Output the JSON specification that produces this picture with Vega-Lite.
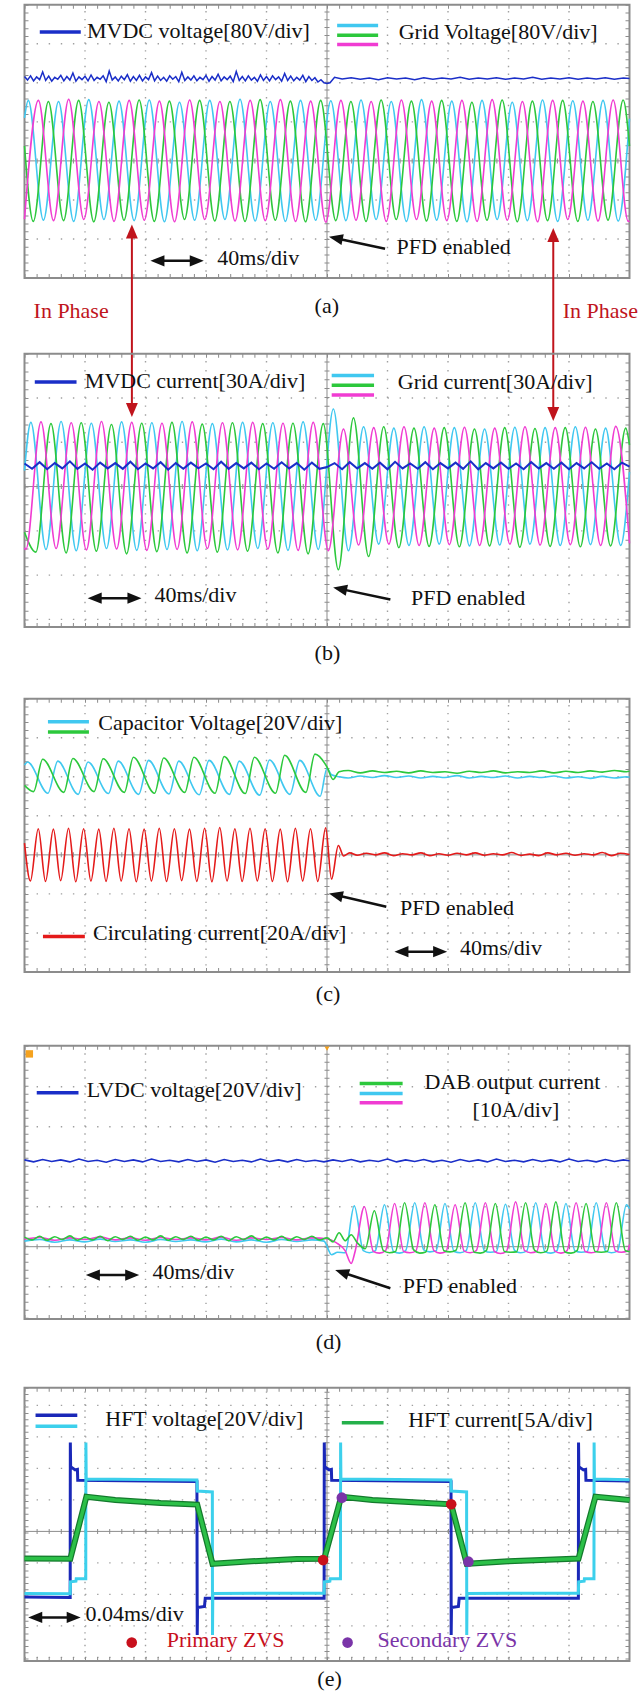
{
"$schema": "https://vega.github.io/schema/vega-lite/v6.json",
"autosize": {"type": "pad"},
"padding": {"left": 12.5, "top": 1.7, "right": 0, "bottom": 0},
"background": "white",
"spacing": 0,
"bounds": "flush",
"config": {"view": {"stroke": null}, "axis": {"disable": true}, "legend": {"disable": true}},
"datasets": {
"hgridA": [{"v":1},{"v":2},{"v":3},{"v":-1},{"v":-2}],
"hgridB": [{"v":1},{"v":2},{"v":-1},{"v":-2},{"v":-3}],
"hgridD": [{"v":1},{"v":2},{"v":3},{"v":4},{"v":-1}],
"hgridE": [{"v":1},{"v":2},{"v":3},{"v":4},{"v":-1},{"v":-2},{"v":-3},{"v":-4}],
"vgrid": [{"t":40},{"t":80},{"t":120},{"t":160},{"t":240},{"t":280},{"t":320},{"t":360}],
"vgridE": [{"t":0.04},{"t":0.08},{"t":0.12},{"t":0.16},{"t":0.24},{"t":0.28},{"t":0.32},{"t":0.36}],
"aV": [
{"s":"A","t":0,"v":1.1},{"s":"A","t":2.5,"v":1.55},{"s":"A","t":12.5,"v":-1.52},{"s":"A","t":22.5,"v":1.52},{"s":"A","t":32.5,"v":-1.55},{"s":"A","t":42.5,"v":1.57},{"s":"A","t":52.5,"v":-1.5},{"s":"A","t":62.5,"v":1.53},{"s":"A","t":72.5,"v":-1.53},{"s":"A","t":82.5,"v":1.56},{"s":"A","t":92.5,"v":-1.56},{"s":"A","t":102.5,"v":1.5},{"s":"A","t":112.5,"v":-1.52},{"s":"A","t":122.5,"v":1.55},{"s":"A","t":132.5,"v":-1.5},{"s":"A","t":142.5,"v":1.58},{"s":"A","t":152.5,"v":-1.54},{"s":"A","t":162.5,"v":1.52},{"s":"A","t":172.5,"v":-1.55},{"s":"A","t":182.5,"v":1.55},{"s":"A","t":192.5,"v":-1.52},{"s":"A","t":202.5,"v":1.54},{"s":"A","t":212.5,"v":-1.53},{"s":"A","t":222.5,"v":1.56},{"s":"A","t":232.5,"v":-1.5},{"s":"A","t":242.5,"v":1.52},{"s":"A","t":252.5,"v":-1.55},{"s":"A","t":262.5,"v":1.57},{"s":"A","t":272.5,"v":-1.52},{"s":"A","t":282.5,"v":1.53},{"s":"A","t":292.5,"v":-1.56},{"s":"A","t":302.5,"v":1.55},{"s":"A","t":312.5,"v":-1.5},{"s":"A","t":322.5,"v":1.5},{"s":"A","t":332.5,"v":-1.53},{"s":"A","t":342.5,"v":1.56},{"s":"A","t":352.5,"v":-1.55},{"s":"A","t":362.5,"v":1.54},{"s":"A","t":372.5,"v":-1.52},{"s":"A","t":382.5,"v":1.55},{"s":"A","t":392.5,"v":-1.54},{"s":"A","t":400,"v":1.08},
{"s":"B","t":0,"v":0.38},{"s":"B","t":5.8,"v":-1.55},{"s":"B","t":15.8,"v":1.52},{"s":"B","t":25.8,"v":-1.53},{"s":"B","t":35.8,"v":1.55},{"s":"B","t":45.8,"v":-1.56},{"s":"B","t":55.8,"v":1.5},{"s":"B","t":65.8,"v":-1.52},{"s":"B","t":75.8,"v":1.56},{"s":"B","t":85.8,"v":-1.55},{"s":"B","t":95.8,"v":1.53},{"s":"B","t":105.8,"v":-1.5},{"s":"B","t":115.8,"v":1.55},{"s":"B","t":125.8,"v":-1.54},{"s":"B","t":135.8,"v":1.52},{"s":"B","t":145.8,"v":-1.55},{"s":"B","t":155.8,"v":1.57},{"s":"B","t":165.8,"v":-1.52},{"s":"B","t":175.8,"v":1.53},{"s":"B","t":185.8,"v":-1.56},{"s":"B","t":195.8,"v":1.55},{"s":"B","t":205.8,"v":-1.53},{"s":"B","t":215.8,"v":1.52},{"s":"B","t":225.8,"v":-1.55},{"s":"B","t":235.8,"v":1.56},{"s":"B","t":245.8,"v":-1.5},{"s":"B","t":255.8,"v":1.53},{"s":"B","t":265.8,"v":-1.54},{"s":"B","t":275.8,"v":1.55},{"s":"B","t":285.8,"v":-1.55},{"s":"B","t":295.8,"v":1.5},{"s":"B","t":305.8,"v":-1.52},{"s":"B","t":315.8,"v":1.56},{"s":"B","t":325.8,"v":-1.56},{"s":"B","t":335.8,"v":1.53},{"s":"B","t":345.8,"v":-1.53},{"s":"B","t":355.8,"v":1.55},{"s":"B","t":365.8,"v":-1.55},{"s":"B","t":375.8,"v":1.52},{"s":"B","t":385.8,"v":-1.52},{"s":"B","t":395.8,"v":1.56},{"s":"B","t":400,"v":0.38},
{"s":"C","t":0,"v":-1.49},{"s":"C","t":9.2,"v":1.55},{"s":"C","t":19.2,"v":-1.53},{"s":"C","t":29.2,"v":1.58},{"s":"C","t":39.2,"v":-1.5},{"s":"C","t":49.2,"v":1.52},{"s":"C","t":59.2,"v":-1.55},{"s":"C","t":69.2,"v":1.55},{"s":"C","t":79.2,"v":-1.52},{"s":"C","t":89.2,"v":1.53},{"s":"C","t":99.2,"v":-1.56},{"s":"C","t":109.2,"v":1.56},{"s":"C","t":119.2,"v":-1.5},{"s":"C","t":129.2,"v":1.52},{"s":"C","t":139.2,"v":-1.54},{"s":"C","t":149.2,"v":1.55},{"s":"C","t":159.2,"v":-1.53},{"s":"C","t":169.2,"v":1.57},{"s":"C","t":179.2,"v":-1.55},{"s":"C","t":189.2,"v":1.53},{"s":"C","t":199.2,"v":-1.57},{"s":"C","t":209.2,"v":1.55},{"s":"C","t":219.2,"v":-1.52},{"s":"C","t":229.2,"v":1.52},{"s":"C","t":239.2,"v":-1.55},{"s":"C","t":249.2,"v":1.56},{"s":"C","t":259.2,"v":-1.5},{"s":"C","t":269.2,"v":1.53},{"s":"C","t":279.2,"v":-1.53},{"s":"C","t":289.2,"v":1.55},{"s":"C","t":299.2,"v":-1.55},{"s":"C","t":309.2,"v":1.57},{"s":"C","t":319.2,"v":-1.52},{"s":"C","t":329.2,"v":1.52},{"s":"C","t":339.2,"v":-1.56},{"s":"C","t":349.2,"v":1.55},{"s":"C","t":359.2,"v":-1.5},{"s":"C","t":369.2,"v":1.53},{"s":"C","t":379.2,"v":-1.54},{"s":"C","t":389.2,"v":1.56},{"s":"C","t":399.2,"v":-1.55},{"s":"C","t":400,"v":-1.53}
],
"aDC": [
{"t":0,"v":2.16},{"t":2,"v":2.07},{"t":4,"v":2.18},{"t":6,"v":2.05},{"t":8,"v":2.15},{"t":10,"v":2.08},{"t":12,"v":2.28},{"t":14,"v":2.06},{"t":16,"v":2.17},{"t":18,"v":2.04},{"t":20,"v":2.14},{"t":22,"v":2.09},{"t":24,"v":2.19},{"t":26,"v":2.05},{"t":28,"v":2.16},{"t":30,"v":2.07},{"t":32,"v":2.25},{"t":34,"v":2.04},{"t":36,"v":2.15},{"t":38,"v":2.08},
{"t":40,"v":2.17},{"t":42,"v":2.05},{"t":44,"v":2.2},{"t":46,"v":2.06},{"t":48,"v":2.14},{"t":50,"v":2.09},{"t":52,"v":2.18},{"t":54,"v":2.03},{"t":56,"v":2.3},{"t":58,"v":2.07},{"t":60,"v":2.15},{"t":62,"v":2.05},{"t":64,"v":2.17},{"t":66,"v":2.08},{"t":68,"v":2.21},{"t":70,"v":2.04},{"t":72,"v":2.16},{"t":74,"v":2.06},{"t":76,"v":2.19},{"t":78,"v":2.05},
{"t":80,"v":2.15},{"t":82,"v":2.08},{"t":84,"v":2.26},{"t":86,"v":2.05},{"t":88,"v":2.17},{"t":90,"v":2.06},{"t":92,"v":2.14},{"t":94,"v":2.04},{"t":96,"v":2.18},{"t":98,"v":2.09},{"t":100,"v":2.16},{"t":102,"v":2.03},{"t":104,"v":2.27},{"t":106,"v":2.06},{"t":108,"v":2.15},{"t":110,"v":2.07},{"t":112,"v":2.18},{"t":114,"v":2.05},{"t":116,"v":2.14},{"t":118,"v":2.08},
{"t":120,"v":2.19},{"t":122,"v":2.04},{"t":124,"v":2.16},{"t":126,"v":2.07},{"t":128,"v":2.22},{"t":130,"v":2.05},{"t":132,"v":2.15},{"t":134,"v":2.08},{"t":136,"v":2.17},{"t":138,"v":2.03},{"t":140,"v":2.29},{"t":142,"v":2.06},{"t":144,"v":2.16},{"t":146,"v":2.05},{"t":148,"v":2.18},{"t":150,"v":2.07},{"t":152,"v":2.14},{"t":154,"v":2.04},{"t":156,"v":2.2},{"t":158,"v":2.06},
{"t":160,"v":2.16},{"t":162,"v":2.05},{"t":164,"v":2.18},{"t":166,"v":2.08},{"t":168,"v":2.15},{"t":170,"v":2.04},{"t":172,"v":2.24},{"t":174,"v":2.06},{"t":176,"v":2.17},{"t":178,"v":2.05},{"t":180,"v":2.14},{"t":182,"v":2.07},{"t":184,"v":2.19},{"t":186,"v":2.03},{"t":188,"v":2.16},{"t":190,"v":2.06},{"t":192,"v":2.13},{"t":194,"v":2.02},{"t":196,"v":2.08},{"t":198,"v":2.0},
{"t":200,"v":1.98},{"t":202,"v":2.0},{"t":205,"v":2.14},{"t":210,"v":2.1},{"t":216,"v":2.13},{"t":222,"v":2.09},{"t":228,"v":2.12},{"t":234,"v":2.08},{"t":240,"v":2.13},{"t":246,"v":2.1},{"t":252,"v":2.12},{"t":258,"v":2.08},{"t":264,"v":2.13},{"t":270,"v":2.09},{"t":276,"v":2.12},{"t":282,"v":2.1},{"t":288,"v":2.14},{"t":294,"v":2.09},{"t":300,"v":2.12},{"t":306,"v":2.1},{"t":312,"v":2.13},{"t":318,"v":2.09},{"t":324,"v":2.12},{"t":330,"v":2.1},{"t":336,"v":2.14},{"t":342,"v":2.09},{"t":348,"v":2.12},{"t":354,"v":2.1},{"t":360,"v":2.13},{"t":366,"v":2.09},{"t":372,"v":2.12},{"t":378,"v":2.1},{"t":384,"v":2.13},{"t":390,"v":2.09},{"t":396,"v":2.12},{"t":400,"v":2.11}
],
"bI": [
{"s":"A","t":0,"v":0.36},{"s":"A","t":4.2,"v":1.45},{"s":"A","t":14.2,"v":-1.42},{"s":"A","t":24.2,"v":1.47},{"s":"A","t":34.2,"v":-1.45},{"s":"A","t":44.2,"v":1.43},{"s":"A","t":54.2,"v":-1.4},{"s":"A","t":64.2,"v":1.46},{"s":"A","t":74.2,"v":-1.44},{"s":"A","t":84.2,"v":1.44},{"s":"A","t":94.2,"v":-1.42},{"s":"A","t":104.2,"v":1.47},{"s":"A","t":114.2,"v":-1.45},{"s":"A","t":124.2,"v":1.42},{"s":"A","t":134.2,"v":-1.43},{"s":"A","t":144.2,"v":1.45},{"s":"A","t":154.2,"v":-1.4},{"s":"A","t":164.2,"v":1.44},{"s":"A","t":174.2,"v":-1.44},{"s":"A","t":184.2,"v":1.46},{"s":"A","t":194.2,"v":-1.42},{"s":"A","t":204.2,"v":1.75},{"s":"A","t":214.2,"v":-1.45},{"s":"A","t":224.2,"v":1.35},{"s":"A","t":234.2,"v":-1.3},{"s":"A","t":244.2,"v":1.32},{"s":"A","t":254.2,"v":-1.33},{"s":"A","t":264.2,"v":1.35},{"s":"A","t":274.2,"v":-1.3},{"s":"A","t":284.2,"v":1.33},{"s":"A","t":294.2,"v":-1.34},{"s":"A","t":304.2,"v":1.3},{"s":"A","t":314.2,"v":-1.32},{"s":"A","t":324.2,"v":1.34},{"s":"A","t":334.2,"v":-1.3},{"s":"A","t":344.2,"v":1.33},{"s":"A","t":354.2,"v":-1.33},{"s":"A","t":364.2,"v":1.35},{"s":"A","t":374.2,"v":-1.31},{"s":"A","t":384.2,"v":1.32},{"s":"A","t":394.2,"v":-1.33},{"s":"A","t":400,"v":0.33},
{"s":"B","t":0,"v":-1.03},{"s":"B","t":7.5,"v":-1.48},{"s":"B","t":17.5,"v":1.42},{"s":"B","t":27.5,"v":-1.5},{"s":"B","t":37.5,"v":1.44},{"s":"B","t":47.5,"v":-1.46},{"s":"B","t":57.5,"v":1.4},{"s":"B","t":67.5,"v":-1.52},{"s":"B","t":77.5,"v":1.43},{"s":"B","t":87.5,"v":-1.47},{"s":"B","t":97.5,"v":1.45},{"s":"B","t":107.5,"v":-1.5},{"s":"B","t":117.5,"v":1.41},{"s":"B","t":127.5,"v":-1.48},{"s":"B","t":137.5,"v":1.44},{"s":"B","t":147.5,"v":-1.46},{"s":"B","t":157.5,"v":1.42},{"s":"B","t":167.5,"v":-1.5},{"s":"B","t":177.5,"v":1.43},{"s":"B","t":187.5,"v":-1.52},{"s":"B","t":197.5,"v":1.42},{"s":"B","t":207.5,"v":-1.88},{"s":"B","t":217.5,"v":1.55},{"s":"B","t":227.5,"v":-1.58},{"s":"B","t":237.5,"v":1.35},{"s":"B","t":247.5,"v":-1.38},{"s":"B","t":257.5,"v":1.32},{"s":"B","t":267.5,"v":-1.35},{"s":"B","t":277.5,"v":1.33},{"s":"B","t":287.5,"v":-1.36},{"s":"B","t":297.5,"v":1.3},{"s":"B","t":307.5,"v":-1.34},{"s":"B","t":317.5,"v":1.33},{"s":"B","t":327.5,"v":-1.37},{"s":"B","t":337.5,"v":1.31},{"s":"B","t":347.5,"v":-1.35},{"s":"B","t":357.5,"v":1.33},{"s":"B","t":367.5,"v":-1.36},{"s":"B","t":377.5,"v":1.3},{"s":"B","t":387.5,"v":-1.34},{"s":"B","t":397.5,"v":1.32},{"s":"B","t":400,"v":0.94},
{"s":"C","t":0,"v":-1.38},{"s":"C","t":0.9,"v":-1.42},{"s":"C","t":10.9,"v":1.46},{"s":"C","t":20.9,"v":-1.4},{"s":"C","t":30.9,"v":1.44},{"s":"C","t":40.9,"v":-1.43},{"s":"C","t":50.9,"v":1.47},{"s":"C","t":60.9,"v":-1.41},{"s":"C","t":70.9,"v":1.45},{"s":"C","t":80.9,"v":-1.44},{"s":"C","t":90.9,"v":1.43},{"s":"C","t":100.9,"v":-1.42},{"s":"C","t":110.9,"v":1.46},{"s":"C","t":120.9,"v":-1.4},{"s":"C","t":130.9,"v":1.44},{"s":"C","t":140.9,"v":-1.43},{"s":"C","t":150.9,"v":1.45},{"s":"C","t":160.9,"v":-1.41},{"s":"C","t":170.9,"v":1.43},{"s":"C","t":180.9,"v":-1.44},{"s":"C","t":190.9,"v":1.45},{"s":"C","t":200.9,"v":-1.45},{"s":"C","t":210.9,"v":1.3},{"s":"C","t":220.9,"v":-1.32},{"s":"C","t":230.9,"v":1.33},{"s":"C","t":240.9,"v":-1.3},{"s":"C","t":250.9,"v":1.35},{"s":"C","t":260.9,"v":-1.33},{"s":"C","t":270.9,"v":1.32},{"s":"C","t":280.9,"v":-1.31},{"s":"C","t":290.9,"v":1.34},{"s":"C","t":300.9,"v":-1.33},{"s":"C","t":310.9,"v":1.32},{"s":"C","t":320.9,"v":-1.3},{"s":"C","t":330.9,"v":1.35},{"s":"C","t":340.9,"v":-1.32},{"s":"C","t":350.9,"v":1.33},{"s":"C","t":360.9,"v":-1.31},{"s":"C","t":370.9,"v":1.34},{"s":"C","t":380.9,"v":-1.33},{"s":"C","t":390.9,"v":1.36},{"s":"C","t":400,"v":-1.28}
],
"bDC": [
{"t":0,"v":0.52},{"t":5,"v":0.4},{"t":10,"v":0.55},{"t":15,"v":0.39},{"t":20,"v":0.53},{"t":25,"v":0.41},{"t":30,"v":0.57},{"t":35,"v":0.4},{"t":40,"v":0.52},{"t":45,"v":0.38},{"t":50,"v":0.54},{"t":55,"v":0.41},{"t":60,"v":0.53},{"t":65,"v":0.4},{"t":70,"v":0.56},{"t":75,"v":0.39},{"t":80,"v":0.52},{"t":85,"v":0.41},{"t":90,"v":0.55},{"t":95,"v":0.38},{"t":100,"v":0.53},{"t":105,"v":0.4},{"t":110,"v":0.54},{"t":115,"v":0.41},{"t":120,"v":0.52},{"t":125,"v":0.39},{"t":130,"v":0.56},{"t":135,"v":0.4},{"t":140,"v":0.53},{"t":145,"v":0.41},{"t":150,"v":0.54},{"t":155,"v":0.39},{"t":160,"v":0.52},{"t":165,"v":0.4},{"t":170,"v":0.55},{"t":175,"v":0.41},{"t":180,"v":0.53},{"t":185,"v":0.38},{"t":190,"v":0.54},{"t":195,"v":0.4},{"t":200,"v":0.44},{"t":205,"v":0.53},{"t":210,"v":0.39},{"t":215,"v":0.55},{"t":220,"v":0.41},{"t":225,"v":0.53},{"t":230,"v":0.4},{"t":235,"v":0.54},{"t":240,"v":0.39},{"t":245,"v":0.56},{"t":250,"v":0.41},{"t":255,"v":0.52},{"t":260,"v":0.4},{"t":265,"v":0.55},{"t":270,"v":0.39},{"t":275,"v":0.53},{"t":280,"v":0.41},{"t":285,"v":0.54},{"t":290,"v":0.4},{"t":295,"v":0.57},{"t":300,"v":0.39},{"t":305,"v":0.53},{"t":310,"v":0.41},{"t":315,"v":0.54},{"t":320,"v":0.4},{"t":325,"v":0.52},{"t":330,"v":0.39},{"t":335,"v":0.55},{"t":340,"v":0.41},{"t":345,"v":0.53},{"t":350,"v":0.4},{"t":355,"v":0.54},{"t":360,"v":0.39},{"t":365,"v":0.53},{"t":370,"v":0.41},{"t":375,"v":0.55},{"t":380,"v":0.4},{"t":385,"v":0.52},{"t":390,"v":0.39},{"t":395,"v":0.54},{"t":400,"v":0.45}
],
"cV": [
{"s":"C1","t":0,"v":2.3},{"s":"C1","t":2,"v":2.38},{"s":"C1","t":15.5,"v":1.58},{"s":"C1","t":22,"v":2.4},{"s":"C1","t":35.5,"v":1.55},{"s":"C1","t":42,"v":2.38},{"s":"C1","t":55.5,"v":1.57},{"s":"C1","t":62,"v":2.4},{"s":"C1","t":75.5,"v":1.55},{"s":"C1","t":82,"v":2.42},{"s":"C1","t":95.5,"v":1.56},{"s":"C1","t":102,"v":2.4},{"s":"C1","t":115.5,"v":1.54},{"s":"C1","t":122,"v":2.42},{"s":"C1","t":135.5,"v":1.55},{"s":"C1","t":142,"v":2.4},{"s":"C1","t":155.5,"v":1.53},{"s":"C1","t":162,"v":2.43},{"s":"C1","t":175.5,"v":1.55},{"s":"C1","t":182,"v":2.42},{"s":"C1","t":195.5,"v":1.5},{"s":"C1","t":200,"v":2.22},{"s":"C1","t":203,"v":2.05},{"s":"C1","t":208,"v":2.0},{"s":"C1","t":214,"v":1.97},{"s":"C1","t":222,"v":2.02},{"s":"C1","t":230,"v":1.98},{"s":"C1","t":238,"v":2.03},{"s":"C1","t":246,"v":1.98},{"s":"C1","t":254,"v":2.02},{"s":"C1","t":262,"v":1.97},{"s":"C1","t":270,"v":2.01},{"s":"C1","t":278,"v":1.98},{"s":"C1","t":286,"v":2.03},{"s":"C1","t":294,"v":1.97},{"s":"C1","t":302,"v":2.01},{"s":"C1","t":310,"v":1.98},{"s":"C1","t":318,"v":2.02},{"s":"C1","t":326,"v":1.97},{"s":"C1","t":334,"v":2.01},{"s":"C1","t":342,"v":1.98},{"s":"C1","t":350,"v":2.02},{"s":"C1","t":358,"v":1.97},{"s":"C1","t":366,"v":2.0},{"s":"C1","t":374,"v":1.96},{"s":"C1","t":382,"v":2.01},{"s":"C1","t":390,"v":1.97},{"s":"C1","t":398,"v":2.0},{"s":"C1","t":400,"v":1.99},
{"s":"C2","t":0,"v":1.78},{"s":"C2","t":6,"v":1.62},{"s":"C2","t":12,"v":2.45},{"s":"C2","t":26,"v":1.6},{"s":"C2","t":32,"v":2.47},{"s":"C2","t":46,"v":1.62},{"s":"C2","t":52,"v":2.46},{"s":"C2","t":66,"v":1.6},{"s":"C2","t":72,"v":2.5},{"s":"C2","t":86,"v":1.58},{"s":"C2","t":92,"v":2.48},{"s":"C2","t":106,"v":1.6},{"s":"C2","t":112,"v":2.5},{"s":"C2","t":126,"v":1.58},{"s":"C2","t":132,"v":2.52},{"s":"C2","t":146,"v":1.57},{"s":"C2","t":152,"v":2.5},{"s":"C2","t":166,"v":1.58},{"s":"C2","t":172,"v":2.55},{"s":"C2","t":186,"v":1.6},{"s":"C2","t":192,"v":2.58},{"s":"C2","t":200,"v":2.25},{"s":"C2","t":204,"v":1.93},{"s":"C2","t":208,"v":2.13},{"s":"C2","t":214,"v":2.16},{"s":"C2","t":222,"v":2.1},{"s":"C2","t":230,"v":2.15},{"s":"C2","t":238,"v":2.11},{"s":"C2","t":246,"v":2.14},{"s":"C2","t":254,"v":2.1},{"s":"C2","t":262,"v":2.15},{"s":"C2","t":270,"v":2.11},{"s":"C2","t":278,"v":2.13},{"s":"C2","t":286,"v":2.09},{"s":"C2","t":294,"v":2.14},{"s":"C2","t":302,"v":2.11},{"s":"C2","t":310,"v":2.15},{"s":"C2","t":318,"v":2.1},{"s":"C2","t":326,"v":2.13},{"s":"C2","t":334,"v":2.11},{"s":"C2","t":342,"v":2.15},{"s":"C2","t":350,"v":2.1},{"s":"C2","t":358,"v":2.14},{"s":"C2","t":366,"v":2.11},{"s":"C2","t":374,"v":2.15},{"s":"C2","t":382,"v":2.12},{"s":"C2","t":390,"v":2.16},{"s":"C2","t":398,"v":2.13},{"s":"C2","t":400,"v":2.14}
],
"cI": [
{"t":0,"v":0.3},{"t":3.9,"v":-0.67},{"t":9.1,"v":0.67},{"t":13.9,"v":-0.68},{"t":19.1,"v":0.66},{"t":23.9,"v":-0.66},{"t":29.1,"v":0.68},{"t":33.9,"v":-0.69},{"t":39.1,"v":0.67},{"t":43.9,"v":-0.67},{"t":49.1,"v":0.66},{"t":53.9,"v":-0.68},{"t":59.1,"v":0.68},{"t":63.9,"v":-0.67},{"t":69.1,"v":0.67},{"t":73.9,"v":-0.69},{"t":79.1,"v":0.66},{"t":83.9,"v":-0.67},{"t":89.1,"v":0.68},{"t":93.9,"v":-0.68},{"t":99.1,"v":0.67},{"t":103.9,"v":-0.66},{"t":109.1,"v":0.66},{"t":113.9,"v":-0.68},{"t":119.1,"v":0.68},{"t":123.9,"v":-0.69},{"t":129.1,"v":0.7},{"t":133.9,"v":-0.67},{"t":139.1,"v":0.67},{"t":143.9,"v":-0.68},{"t":149.1,"v":0.68},{"t":153.9,"v":-0.67},{"t":159.1,"v":0.67},{"t":163.9,"v":-0.68},{"t":169.1,"v":0.66},{"t":173.9,"v":-0.69},{"t":179.1,"v":0.68},{"t":183.9,"v":-0.67},{"t":189.1,"v":0.67},{"t":193.9,"v":-0.68},{"t":199.1,"v":0.69},{"t":203,"v":-0.62},{"t":207.5,"v":0.24},{"t":211,"v":-0.03},{"t":215,"v":0.05},{"t":220,"v":-0.01},{"t":226,"v":0.04},{"t":232,"v":0.0},{"t":238,"v":0.05},{"t":244,"v":-0.02},{"t":250,"v":0.03},{"t":256,"v":0.0},{"t":262,"v":0.05},{"t":268,"v":-0.02},{"t":274,"v":0.03},{"t":280,"v":-0.01},{"t":286,"v":0.04},{"t":292,"v":0.0},{"t":298,"v":0.05},{"t":304,"v":-0.01},{"t":310,"v":0.03},{"t":316,"v":0.0},{"t":322,"v":0.06},{"t":328,"v":-0.01},{"t":334,"v":0.02},{"t":340,"v":-0.02},{"t":346,"v":0.05},{"t":352,"v":0.0},{"t":358,"v":0.04},{"t":364,"v":-0.01},{"t":370,"v":0.03},{"t":376,"v":0.0},{"t":382,"v":0.06},{"t":388,"v":-0.02},{"t":394,"v":0.04},{"t":400,"v":0.01}
],
"dDC": [
{"t":0,"v":2.17},{"t":6,"v":2.12},{"t":12,"v":2.18},{"t":18,"v":2.13},{"t":24,"v":2.17},{"t":30,"v":2.12},{"t":36,"v":2.19},{"t":42,"v":2.13},{"t":48,"v":2.16},{"t":54,"v":2.11},{"t":60,"v":2.18},{"t":66,"v":2.13},{"t":72,"v":2.17},{"t":78,"v":2.12},{"t":84,"v":2.19},{"t":90,"v":2.13},{"t":96,"v":2.16},{"t":102,"v":2.12},{"t":108,"v":2.18},{"t":114,"v":2.13},{"t":120,"v":2.17},{"t":126,"v":2.11},{"t":132,"v":2.18},{"t":138,"v":2.13},{"t":144,"v":2.16},{"t":150,"v":2.12},{"t":156,"v":2.19},{"t":162,"v":2.13},{"t":168,"v":2.17},{"t":174,"v":2.12},{"t":180,"v":2.18},{"t":186,"v":2.13},{"t":192,"v":2.16},{"t":198,"v":2.12},{"t":204,"v":2.17},{"t":210,"v":2.13},{"t":216,"v":2.18},{"t":222,"v":2.12},{"t":228,"v":2.16},{"t":234,"v":2.13},{"t":240,"v":2.19},{"t":246,"v":2.12},{"t":252,"v":2.17},{"t":258,"v":2.13},{"t":264,"v":2.18},{"t":270,"v":2.12},{"t":276,"v":2.16},{"t":282,"v":2.11},{"t":288,"v":2.18},{"t":294,"v":2.13},{"t":300,"v":2.17},{"t":306,"v":2.12},{"t":312,"v":2.19},{"t":318,"v":2.13},{"t":324,"v":2.16},{"t":330,"v":2.12},{"t":336,"v":2.18},{"t":342,"v":2.13},{"t":348,"v":2.17},{"t":354,"v":2.12},{"t":360,"v":2.19},{"t":366,"v":2.13},{"t":372,"v":2.16},{"t":378,"v":2.12},{"t":384,"v":2.18},{"t":390,"v":2.13},{"t":396,"v":2.17},{"t":400,"v":2.15}
],
"dI": [
{"s":"A","t":0,"v":0.14},{"s":"A","t":10,"v":0.18},{"s":"A","t":20,"v":0.11},{"s":"A","t":30,"v":0.17},{"s":"A","t":40,"v":0.12},{"s":"A","t":50,"v":0.19},{"s":"A","t":60,"v":0.13},{"s":"A","t":70,"v":0.17},{"s":"A","t":80,"v":0.11},{"s":"A","t":90,"v":0.18},{"s":"A","t":100,"v":0.13},{"s":"A","t":110,"v":0.17},{"s":"A","t":120,"v":0.12},{"s":"A","t":130,"v":0.19},{"s":"A","t":140,"v":0.12},{"s":"A","t":150,"v":0.17},{"s":"A","t":160,"v":0.11},{"s":"A","t":170,"v":0.18},{"s":"A","t":180,"v":0.13},{"s":"A","t":190,"v":0.17},{"s":"A","t":198,"v":0.14},{"s":"A","t":203,"v":-0.2},{"s":"A","t":207,"v":-0.14},{"s":"A","t":212,"v":-0.15},{"s":"A","t":218,"v":1.02},{"s":"A","t":224,"v":-0.1},{"s":"A","t":228,"v":-0.15},{"s":"A","t":232,"v":-0.1},{"s":"A","t":238,"v":1.05},{"s":"A","t":244,"v":-0.12},{"s":"A","t":248,"v":-0.16},{"s":"A","t":252,"v":-0.1},{"s":"A","t":258,"v":1.1},{"s":"A","t":264,"v":-0.08},{"s":"A","t":268,"v":-0.13},{"s":"A","t":272,"v":-0.11},{"s":"A","t":278,"v":1.08},{"s":"A","t":284,"v":-0.12},{"s":"A","t":288,"v":-0.15},{"s":"A","t":292,"v":-0.1},{"s":"A","t":298,"v":1.1},{"s":"A","t":304,"v":-0.1},{"s":"A","t":308,"v":-0.14},{"s":"A","t":312,"v":-0.12},{"s":"A","t":318,"v":1.06},{"s":"A","t":324,"v":-0.09},{"s":"A","t":328,"v":-0.15},{"s":"A","t":332,"v":-0.11},{"s":"A","t":338,"v":1.1},{"s":"A","t":344,"v":-0.12},{"s":"A","t":348,"v":-0.16},{"s":"A","t":352,"v":-0.1},{"s":"A","t":358,"v":1.08},{"s":"A","t":364,"v":-0.11},{"s":"A","t":368,"v":-0.14},{"s":"A","t":372,"v":-0.12},{"s":"A","t":378,"v":1.1},{"s":"A","t":384,"v":-0.1},{"s":"A","t":388,"v":-0.15},{"s":"A","t":392,"v":-0.11},{"s":"A","t":398,"v":1.05},{"s":"A","t":400,"v":0.95},
{"s":"C","t":0,"v":0.19},{"s":"C","t":10,"v":0.23},{"s":"C","t":20,"v":0.16},{"s":"C","t":30,"v":0.22},{"s":"C","t":40,"v":0.18},{"s":"C","t":50,"v":0.24},{"s":"C","t":60,"v":0.17},{"s":"C","t":70,"v":0.22},{"s":"C","t":80,"v":0.16},{"s":"C","t":90,"v":0.23},{"s":"C","t":100,"v":0.18},{"s":"C","t":110,"v":0.22},{"s":"C","t":120,"v":0.17},{"s":"C","t":130,"v":0.24},{"s":"C","t":140,"v":0.16},{"s":"C","t":150,"v":0.22},{"s":"C","t":160,"v":0.18},{"s":"C","t":170,"v":0.23},{"s":"C","t":180,"v":0.17},{"s":"C","t":190,"v":0.22},{"s":"C","t":200,"v":0.2},{"s":"C","t":206,"v":0.1},{"s":"C","t":212,"v":-0.1},{"s":"C","t":216,"v":-0.42},{"s":"C","t":218.7,"v":-0.1},{"s":"C","t":224.7,"v":1.0},{"s":"C","t":230.7,"v":-0.12},{"s":"C","t":234.7,"v":-0.16},{"s":"C","t":238.7,"v":-0.1},{"s":"C","t":244.7,"v":1.08},{"s":"C","t":250.7,"v":-0.12},{"s":"C","t":254.7,"v":-0.15},{"s":"C","t":258.7,"v":-0.11},{"s":"C","t":264.7,"v":1.1},{"s":"C","t":270.7,"v":-0.1},{"s":"C","t":274.7,"v":-0.16},{"s":"C","t":278.7,"v":-0.12},{"s":"C","t":284.7,"v":1.05},{"s":"C","t":290.7,"v":-0.11},{"s":"C","t":294.7,"v":-0.15},{"s":"C","t":298.7,"v":-0.1},{"s":"C","t":304.7,"v":1.1},{"s":"C","t":310.7,"v":-0.12},{"s":"C","t":314.7,"v":-0.17},{"s":"C","t":318.7,"v":-0.11},{"s":"C","t":324.7,"v":1.12},{"s":"C","t":330.7,"v":-0.1},{"s":"C","t":334.7,"v":-0.15},{"s":"C","t":338.7,"v":-0.12},{"s":"C","t":344.7,"v":1.08},{"s":"C","t":350.7,"v":-0.11},{"s":"C","t":354.7,"v":-0.16},{"s":"C","t":358.7,"v":-0.1},{"s":"C","t":364.7,"v":1.1},{"s":"C","t":370.7,"v":-0.12},{"s":"C","t":374.7,"v":-0.15},{"s":"C","t":378.7,"v":-0.11},{"s":"C","t":384.7,"v":1.1},{"s":"C","t":390.7,"v":-0.1},{"s":"C","t":394.7,"v":-0.14},{"s":"C","t":398.7,"v":-0.11},{"s":"C","t":400,"v":0.05},
{"s":"B","t":0,"v":0.24},{"s":"B","t":5,"v":0.17},{"s":"B","t":10,"v":0.26},{"s":"B","t":15,"v":0.16},{"s":"B","t":20,"v":0.25},{"s":"B","t":25,"v":0.18},{"s":"B","t":30,"v":0.27},{"s":"B","t":35,"v":0.16},{"s":"B","t":40,"v":0.24},{"s":"B","t":45,"v":0.17},{"s":"B","t":50,"v":0.26},{"s":"B","t":55,"v":0.15},{"s":"B","t":60,"v":0.25},{"s":"B","t":65,"v":0.18},{"s":"B","t":70,"v":0.26},{"s":"B","t":75,"v":0.16},{"s":"B","t":80,"v":0.24},{"s":"B","t":85,"v":0.17},{"s":"B","t":90,"v":0.27},{"s":"B","t":95,"v":0.16},{"s":"B","t":100,"v":0.25},{"s":"B","t":105,"v":0.18},{"s":"B","t":110,"v":0.26},{"s":"B","t":115,"v":0.16},{"s":"B","t":120,"v":0.24},{"s":"B","t":125,"v":0.17},{"s":"B","t":130,"v":0.26},{"s":"B","t":135,"v":0.15},{"s":"B","t":140,"v":0.25},{"s":"B","t":145,"v":0.18},{"s":"B","t":150,"v":0.27},{"s":"B","t":155,"v":0.16},{"s":"B","t":160,"v":0.24},{"s":"B","t":165,"v":0.17},{"s":"B","t":170,"v":0.26},{"s":"B","t":175,"v":0.16},{"s":"B","t":180,"v":0.25},{"s":"B","t":185,"v":0.18},{"s":"B","t":190,"v":0.26},{"s":"B","t":195,"v":0.17},{"s":"B","t":200,"v":0.22},{"s":"B","t":204,"v":0.12},{"s":"B","t":208,"v":0.35},{"s":"B","t":212,"v":0.15},{"s":"B","t":216,"v":0.3},{"s":"B","t":220,"v":0.1},{"s":"B","t":225.3,"v":-0.05},{"s":"B","t":231.3,"v":0.9},{"s":"B","t":237.3,"v":-0.1},{"s":"B","t":241.3,"v":-0.15},{"s":"B","t":245.3,"v":-0.12},{"s":"B","t":251.3,"v":1.1},{"s":"B","t":257.3,"v":-0.08},{"s":"B","t":261.3,"v":-0.16},{"s":"B","t":265.3,"v":-0.13},{"s":"B","t":271.3,"v":1.05},{"s":"B","t":277.3,"v":-0.1},{"s":"B","t":281.3,"v":-0.13},{"s":"B","t":285.3,"v":-0.09},{"s":"B","t":291.3,"v":1.1},{"s":"B","t":297.3,"v":-0.14},{"s":"B","t":301.3,"v":-0.16},{"s":"B","t":305.3,"v":-0.1},{"s":"B","t":311.3,"v":1.08},{"s":"B","t":317.3,"v":-0.12},{"s":"B","t":321.3,"v":-0.14},{"s":"B","t":325.3,"v":-0.13},{"s":"B","t":331.3,"v":1.1},{"s":"B","t":337.3,"v":-0.09},{"s":"B","t":341.3,"v":-0.15},{"s":"B","t":345.3,"v":-0.11},{"s":"B","t":351.3,"v":1.12},{"s":"B","t":357.3,"v":-0.13},{"s":"B","t":361.3,"v":-0.16},{"s":"B","t":365.3,"v":-0.1},{"s":"B","t":371.3,"v":1.08},{"s":"B","t":377.3,"v":-0.12},{"s":"B","t":381.3,"v":-0.14},{"s":"B","t":385.3,"v":-0.12},{"s":"B","t":391.3,"v":1.1},{"s":"B","t":397.3,"v":-0.1},{"s":"B","t":400,"v":-0.12}
],
"eV": [
{"s":"P","t":0,"v":-2.08},{"s":"P","t":0.0302,"v":-2.1},{"s":"P","t":0.0303,"v":2.82},{"s":"P","t":0.0305,"v":2.05},{"s":"P","t":0.0335,"v":1.95},{"s":"P","t":0.035,"v":1.97},{"s":"P","t":0.0352,"v":1.62},{"s":"P","t":0.114,"v":1.58},{"s":"P","t":0.1142,"v":-3.29},{"s":"P","t":0.1144,"v":-2.42},{"s":"P","t":0.119,"v":-2.38},{"s":"P","t":0.1195,"v":-2.12},{"s":"P","t":0.1981,"v":-2.12},{"s":"P","t":0.1982,"v":2.82},{"s":"P","t":0.1984,"v":2.05},{"s":"P","t":0.2014,"v":1.95},{"s":"P","t":0.2029,"v":1.97},{"s":"P","t":0.2031,"v":1.62},{"s":"P","t":0.282,"v":1.58},{"s":"P","t":0.2821,"v":-3.29},{"s":"P","t":0.2823,"v":-2.42},{"s":"P","t":0.2869,"v":-2.38},{"s":"P","t":0.2874,"v":-2.12},{"s":"P","t":0.3662,"v":-2.12},{"s":"P","t":0.3663,"v":2.82},{"s":"P","t":0.3665,"v":2.05},{"s":"P","t":0.3695,"v":1.95},{"s":"P","t":0.371,"v":1.97},{"s":"P","t":0.3712,"v":1.62},{"s":"P","t":0.4,"v":1.6},
{"s":"S","t":0,"v":-1.97},{"s":"S","t":0.0302,"v":-1.98},{"s":"S","t":0.0304,"v":-1.6},{"s":"S","t":0.034,"v":-1.58},{"s":"S","t":0.0342,"v":-1.5},{"s":"S","t":0.0405,"v":-1.5},{"s":"S","t":0.0406,"v":2.82},{"s":"S","t":0.0408,"v":1.66},{"s":"S","t":0.114,"v":1.63},{"s":"S","t":0.1143,"v":1.28},{"s":"S","t":0.1242,"v":1.25},{"s":"S","t":0.1243,"v":-3.29},{"s":"S","t":0.1245,"v":-1.97},{"s":"S","t":0.1981,"v":-1.96},{"s":"S","t":0.1983,"v":-1.6},{"s":"S","t":0.2019,"v":-1.58},{"s":"S","t":0.2021,"v":-1.5},{"s":"S","t":0.2089,"v":-1.5},{"s":"S","t":0.209,"v":2.82},{"s":"S","t":0.2092,"v":1.66},{"s":"S","t":0.2819,"v":1.63},{"s":"S","t":0.2822,"v":1.28},{"s":"S","t":0.2923,"v":1.25},{"s":"S","t":0.2924,"v":-3.29},{"s":"S","t":0.2926,"v":-1.97},{"s":"S","t":0.3662,"v":-1.96},{"s":"S","t":0.3664,"v":-1.6},{"s":"S","t":0.37,"v":-1.58},{"s":"S","t":0.3702,"v":-1.5},{"s":"S","t":0.3765,"v":-1.5},{"s":"S","t":0.3766,"v":2.82},{"s":"S","t":0.3768,"v":1.66},{"s":"S","t":0.4,"v":1.64}
],
"eI": [
{"t":0,"v":-0.86},{"t":0.0303,"v":-0.87},{"t":0.0409,"v":1.1},{"t":0.06,"v":1.0},{"t":0.09,"v":0.9},{"t":0.1142,"v":0.85},{"t":0.1243,"v":-1.03},{"t":0.15,"v":-0.95},{"t":0.18,"v":-0.88},{"t":0.1982,"v":-0.87},{"t":0.2094,"v":1.1},{"t":0.23,"v":1.0},{"t":0.26,"v":0.92},{"t":0.2821,"v":0.86},{"t":0.2924,"v":-1.03},{"t":0.32,"v":-0.95},{"t":0.35,"v":-0.89},{"t":0.3663,"v":-0.86},{"t":0.3775,"v":1.1},{"t":0.4,"v":1.0}
],
"eZ": [
{"s":"Primary","t":0.1974,"v":-0.91},{"s":"Primary","t":0.2821,"v":0.86},{"s":"Secondary","t":0.2098,"v":1.07},{"s":"Secondary","t":0.2935,"v":-0.96},{"s":"Primary","t":0.0709,"v":-3.53},{"s":"Secondary","t":0.2136,"v":-3.53}
]
},
"vconcat": [
{
"width": 605, "height": 348.3,
"layer": [
{"data": {"values": [{}]}, "mark": {"type": "rect", "filled": false, "color": "#8c8c8c", "strokeWidth": 2}, "encoding": {"x": {"datum": 0, "type": "quantitative", "scale": {"domain": [0, 400], "nice": false, "zero": false}}, "x2": {"datum": 400}, "y": {"datum": -3, "type": "quantitative", "scale": {"domain": [-4.92, 4], "nice": false, "zero": false}}, "y2": {"datum": 4}}},
{"data": {"name": "hgridA"}, "mark": {"type": "rule", "color": "#a0a0a0", "strokeWidth": 1.4, "strokeDash": [1.4, 10.7]}, "encoding": {"y": {"field": "v", "type": "quantitative"}, "x": {"datum": 0}, "x2": {"datum": 400}}},
{"data": {"name": "vgrid"}, "mark": {"type": "rule", "color": "#a0a0a0", "strokeWidth": 1.4, "strokeDash": [1.4, 6.41]}, "encoding": {"x": {"field": "t", "type": "quantitative"}, "y": {"datum": 0}, "y2": {"datum": 4}}},
{"data": {"name": "vgrid"}, "mark": {"type": "rule", "color": "#a0a0a0", "strokeWidth": 1.4, "strokeDash": [1.4, 6.41]}, "encoding": {"x": {"field": "t", "type": "quantitative"}, "y": {"datum": 0}, "y2": {"datum": -3}}},
{"data": {"values": [{}]}, "mark": {"type": "rule", "color": "#8c8c8c", "strokeWidth": 4, "strokeDash": [1, 6.81]}, "encoding": {"x": {"datum": 1.32}, "y": {"datum": 4}, "y2": {"datum": -3}}},
{"data": {"values": [{}]}, "mark": {"type": "rule", "color": "#8c8c8c", "strokeWidth": 4, "strokeDash": [1, 6.81]}, "encoding": {"x": {"datum": 398.68}, "y": {"datum": 4}, "y2": {"datum": -3}}},
{"data": {"values": [{}]}, "mark": {"type": "rule", "color": "#8c8c8c", "strokeWidth": 4, "strokeDash": [1, 11.1]}, "encoding": {"x": {"datum": 0}, "x2": {"datum": 400}, "y": {"datum": 3.949}}},
{"data": {"values": [{}]}, "mark": {"type": "rule", "color": "#8c8c8c", "strokeWidth": 4, "strokeDash": [1, 11.1]}, "encoding": {"x": {"datum": 0}, "x2": {"datum": 400}, "y": {"datum": -2.949}}},
{"data": {"values": [{}]}, "mark": {"type": "rule", "color": "#8c8c8c", "strokeWidth": 1}, "encoding": {"x": {"datum": 0}, "x2": {"datum": 400}, "y": {"datum": 0}}},
{"data": {"values": [{}]}, "mark": {"type": "rule", "color": "#8c8c8c", "strokeWidth": 5, "strokeDash": [1, 11.1]}, "encoding": {"x": {"datum": 0}, "x2": {"datum": 400}, "y": {"datum": 0}}},
{"data": {"values": [{}]}, "mark": {"type": "rule", "color": "#8c8c8c", "strokeWidth": 1}, "encoding": {"x": {"datum": 200}, "y": {"datum": -3}, "y2": {"datum": 4}}},
{"data": {"values": [{}]}, "mark": {"type": "rule", "color": "#8c8c8c", "strokeWidth": 5, "strokeDash": [1, 6.81]}, "encoding": {"x": {"datum": 200}, "y": {"datum": 0}, "y2": {"datum": 4}}},
{"data": {"values": [{}]}, "mark": {"type": "rule", "color": "#8c8c8c", "strokeWidth": 5, "strokeDash": [1, 6.81]}, "encoding": {"x": {"datum": 200}, "y": {"datum": 0}, "y2": {"datum": -3}}},
{"data": {"name": "aV"}, "mark": {"type": "line", "interpolate": "monotone", "strokeWidth": 1.6}, "encoding": {"x": {"field": "t", "type": "quantitative"}, "y": {"field": "v", "type": "quantitative"}, "color": {"field": "s", "type": "nominal", "scale": {"domain": ["MVDC","A","B","C","C1","C2","CC","LVDC","P","S","I","Primary","Secondary"], "range": ["#1a2ec8","#40c8f0","#2cc83c","#f03cd2","#40c8f0","#2cc83c","#e41a1a","#1a2ec8","#1a28b8","#3cd0ec","#24b04a","#c8101c","#7a34a8"]}, "legend": null}}},
{"data": {"name": "aDC"}, "mark": {"type": "line", "strokeWidth": 1.5, "color": "#1a2ec8"}, "encoding": {"x": {"field": "t", "type": "quantitative"}, "y": {"field": "v", "type": "quantitative"}}},
{"data": {"values": [{"s":"MVDC","t":10.1,"t2":37.2,"v":3.3},{"s":"A","t":206.7,"t2":233.8,"v":3.47},{"s":"B","t":206.7,"t2":233.8,"v":3.22},{"s":"C","t":206.7,"t2":233.8,"v":2.98}]}, "mark": {"type": "rule", "strokeWidth": 3.5}, "encoding": {"x": {"field": "t", "type": "quantitative"}, "x2": {"field": "t2"}, "y": {"field": "v", "type": "quantitative"}, "color": {"field": "s", "type": "nominal", "scale": {"domain": ["MVDC","A","B","C","C1","C2","CC","LVDC","P","S","I","Primary","Secondary"], "range": ["#1a2ec8","#40c8f0","#2cc83c","#f03cd2","#40c8f0","#2cc83c","#e41a1a","#1a2ec8","#1a28b8","#3cd0ec","#24b04a","#c8101c","#7a34a8"]}, "legend": null}}},
{"data": {"values": [{"t":41.3,"v":3.26,"label":"MVDC voltage[80V/div]"},{"t":247.4,"v":3.22,"label":"Grid Voltage[80V/div]"},{"t":127.5,"v":-2.56,"label":"40ms/div"},{"t":246,"v":-2.29,"label":"PFD enabled"},{"t":191.8,"v":-3.8,"label":"(a)"}]}, "mark": {"type": "text", "align": "left", "baseline": "middle", "dy": -3, "font": "Liberation Serif", "fontSize": 22, "color": "#111111"}, "encoding": {"x": {"field": "t", "type": "quantitative"}, "y": {"field": "v", "type": "quantitative"}, "text": {"field": "label"}}},
{"data": {"values": [{"t":6,"v":-3.91,"label":"In Phase"},{"t":355.9,"v":-3.91,"label":"In Phase"}]}, "mark": {"type": "text", "align": "left", "baseline": "middle", "dy": -3, "font": "Liberation Serif", "fontSize": 22, "color": "#c0141c"}, "encoding": {"x": {"field": "t", "type": "quantitative"}, "y": {"field": "v", "type": "quantitative"}, "text": {"field": "label"}}},
{"data": {"values": [{"t":87.9,"v":-2.56,"t2":113.9,"v2":-2.56},{"t":238.4,"v":-2.25,"t2":205.8,"v2":-1.98}]}, "mark": {"type": "rule", "strokeWidth": 2.5, "color": "#111111"}, "encoding": {"x": {"field": "t", "type": "quantitative"}, "y": {"field": "v", "type": "quantitative"}, "x2": {"field": "t2"}, "y2": {"field": "v2"}}},
{"data": {"values": [{"t":87.9,"v":-2.56,"ang":180},{"t":113.9,"v":-2.56,"ang":0},{"t":205.8,"v":-1.98,"ang":191.8}]}, "mark": {"type": "point", "shape": "M1,0L-1,-0.8L-1,0.8Z", "filled": true, "size": 196, "color": "#111111", "opacity": 1}, "encoding": {"x": {"field": "t", "type": "quantitative"}, "y": {"field": "v", "type": "quantitative"}, "angle": {"field": "ang", "type": "quantitative", "scale": null}}},
{"data": {"values": [{"t":71,"v":-1.75,"t2":71,"v2":-6.3},{"t":349.6,"v":-1.85,"t2":349.6,"v2":-6.4}]}, "mark": {"type": "rule", "strokeWidth": 2, "color": "#c0141c"}, "encoding": {"x": {"field": "t", "type": "quantitative"}, "y": {"field": "v", "type": "quantitative"}, "x2": {"field": "t2"}, "y2": {"field": "v2"}}},
{"data": {"values": [{"t":71,"v":-1.81,"ang":270},{"t":71,"v":-6.38,"ang":90},{"t":349.6,"v":-1.9,"ang":270},{"t":349.6,"v":-6.48,"ang":90}]}, "mark": {"type": "point", "shape": "M1,0L-1,-0.85L-1,0.85Z", "filled": true, "size": 196, "color": "#c0141c", "opacity": 1}, "encoding": {"x": {"field": "t", "type": "quantitative"}, "y": {"field": "v", "type": "quantitative"}, "angle": {"field": "ang", "type": "quantitative", "scale": null}}}
]
},
{
"width": 605, "height": 345,
"layer": [
{"data": {"values": [{}]}, "mark": {"type": "rect", "filled": false, "color": "#8c8c8c", "strokeWidth": 2}, "encoding": {"x": {"datum": 0, "type": "quantitative", "scale": {"domain": [0, 400], "nice": false, "zero": false}}, "x2": {"datum": 400}, "y": {"datum": -3.17, "type": "quantitative", "scale": {"domain": [-4.79, 3], "nice": false, "zero": false}}, "y2": {"datum": 3}}},
{"data": {"name": "hgridB"}, "mark": {"type": "rule", "color": "#a0a0a0", "strokeWidth": 1.4, "strokeDash": [1.4, 10.7]}, "encoding": {"y": {"field": "v", "type": "quantitative"}, "x": {"datum": 0}, "x2": {"datum": 400}}},
{"data": {"name": "vgrid"}, "mark": {"type": "rule", "color": "#a0a0a0", "strokeWidth": 1.4, "strokeDash": [1.4, 7.46]}, "encoding": {"x": {"field": "t", "type": "quantitative"}, "y": {"datum": 0}, "y2": {"datum": 3}}},
{"data": {"name": "vgrid"}, "mark": {"type": "rule", "color": "#a0a0a0", "strokeWidth": 1.4, "strokeDash": [1.4, 7.46]}, "encoding": {"x": {"field": "t", "type": "quantitative"}, "y": {"datum": 0}, "y2": {"datum": -3.17}}},
{"data": {"values": [{}]}, "mark": {"type": "rule", "color": "#8c8c8c", "strokeWidth": 4, "strokeDash": [1, 7.86]}, "encoding": {"x": {"datum": 1.32}, "y": {"datum": 3}, "y2": {"datum": -3.17}}},
{"data": {"values": [{}]}, "mark": {"type": "rule", "color": "#8c8c8c", "strokeWidth": 4, "strokeDash": [1, 7.86]}, "encoding": {"x": {"datum": 398.68}, "y": {"datum": 3}, "y2": {"datum": -3.17}}},
{"data": {"values": [{}]}, "mark": {"type": "rule", "color": "#8c8c8c", "strokeWidth": 4, "strokeDash": [1, 11.1]}, "encoding": {"x": {"datum": 0}, "x2": {"datum": 400}, "y": {"datum": 2.955}}},
{"data": {"values": [{}]}, "mark": {"type": "rule", "color": "#8c8c8c", "strokeWidth": 4, "strokeDash": [1, 11.1]}, "encoding": {"x": {"datum": 0}, "x2": {"datum": 400}, "y": {"datum": -3.125}}},
{"data": {"values": [{}]}, "mark": {"type": "rule", "color": "#8c8c8c", "strokeWidth": 1}, "encoding": {"x": {"datum": 0}, "x2": {"datum": 400}, "y": {"datum": 0}}},
{"data": {"values": [{}]}, "mark": {"type": "rule", "color": "#8c8c8c", "strokeWidth": 5, "strokeDash": [1, 11.1]}, "encoding": {"x": {"datum": 0}, "x2": {"datum": 400}, "y": {"datum": 0}}},
{"data": {"values": [{}]}, "mark": {"type": "rule", "color": "#8c8c8c", "strokeWidth": 1}, "encoding": {"x": {"datum": 200}, "y": {"datum": -3.17}, "y2": {"datum": 3}}},
{"data": {"values": [{}]}, "mark": {"type": "rule", "color": "#8c8c8c", "strokeWidth": 5, "strokeDash": [1, 7.86]}, "encoding": {"x": {"datum": 200}, "y": {"datum": 0}, "y2": {"datum": 3}}},
{"data": {"values": [{}]}, "mark": {"type": "rule", "color": "#8c8c8c", "strokeWidth": 5, "strokeDash": [1, 7.86]}, "encoding": {"x": {"datum": 200}, "y": {"datum": 0}, "y2": {"datum": -3.17}}},
{"data": {"name": "bI"}, "mark": {"type": "line", "interpolate": "monotone", "strokeWidth": 1.6}, "encoding": {"x": {"field": "t", "type": "quantitative"}, "y": {"field": "v", "type": "quantitative"}, "color": {"field": "s", "type": "nominal", "scale": {"domain": ["MVDC","A","B","C","C1","C2","CC","LVDC","P","S","I","Primary","Secondary"], "range": ["#1a2ec8","#40c8f0","#2cc83c","#f03cd2","#40c8f0","#2cc83c","#e41a1a","#1a2ec8","#1a28b8","#3cd0ec","#24b04a","#c8101c","#7a34a8"]}, "legend": null}}},
{"data": {"name": "bDC"}, "mark": {"type": "line", "strokeWidth": 2, "color": "#1a2ec8"}, "encoding": {"x": {"field": "t", "type": "quantitative"}, "y": {"field": "v", "type": "quantitative"}}},
{"data": {"values": [{"s":"MVDC","t":6.8,"t2":34.4,"v":2.36},{"s":"A","t":203.1,"t2":231.1,"v":2.51},{"s":"B","t":203.1,"t2":231.1,"v":2.29},{"s":"C","t":203.1,"t2":231.1,"v":2.07}]}, "mark": {"type": "rule", "strokeWidth": 3.5}, "encoding": {"x": {"field": "t", "type": "quantitative"}, "x2": {"field": "t2"}, "y": {"field": "v", "type": "quantitative"}, "color": {"field": "s", "type": "nominal", "scale": {"domain": ["MVDC","A","B","C","C1","C2","CC","LVDC","P","S","I","Primary","Secondary"], "range": ["#1a2ec8","#40c8f0","#2cc83c","#f03cd2","#40c8f0","#2cc83c","#e41a1a","#1a2ec8","#1a28b8","#3cd0ec","#24b04a","#c8101c","#7a34a8"]}, "legend": null}}},
{"data": {"values": [{"t":39.9,"v":2.31,"label":"MVDC current[30A/div]"},{"t":246.8,"v":2.29,"label":"Grid current[30A/div]"},{"t":86,"v":-2.52,"label":"40ms/div"},{"t":255.5,"v":-2.58,"label":"PFD enabled"},{"t":191.8,"v":-3.82,"label":"(b)"}]}, "mark": {"type": "text", "align": "left", "baseline": "middle", "dy": -3, "font": "Liberation Serif", "fontSize": 22, "color": "#111111"}, "encoding": {"x": {"field": "t", "type": "quantitative"}, "y": {"field": "v", "type": "quantitative"}, "text": {"field": "label"}}},
{"data": {"values": [{"t":46.4,"v":-2.52,"t2":72.7,"v2":-2.52},{"t":241.9,"v":-2.55,"t2":208.6,"v2":-2.31}]}, "mark": {"type": "rule", "strokeWidth": 2.5, "color": "#111111"}, "encoding": {"x": {"field": "t", "type": "quantitative"}, "y": {"field": "v", "type": "quantitative"}, "x2": {"field": "t2"}, "y2": {"field": "v2"}}},
{"data": {"values": [{"t":46.4,"v":-2.52,"ang":180},{"t":72.7,"v":-2.52,"ang":0},{"t":208.6,"v":-2.31,"ang":191.5}]}, "mark": {"type": "point", "shape": "M1,0L-1,-0.8L-1,0.8Z", "filled": true, "size": 196, "color": "#111111", "opacity": 1}, "encoding": {"x": {"field": "t", "type": "quantitative"}, "y": {"field": "v", "type": "quantitative"}, "angle": {"field": "ang", "type": "quantitative", "scale": null}}}
]
},
{
"width": 605, "height": 346.3,
"layer": [
{"data": {"values": [{}]}, "mark": {"type": "rect", "filled": false, "color": "#8c8c8c", "strokeWidth": 2}, "encoding": {"x": {"datum": 0, "type": "quantitative", "scale": {"domain": [0, 400], "nice": false, "zero": false}}, "x2": {"datum": 400}, "y": {"datum": -3, "type": "quantitative", "scale": {"domain": [-4.87, 4], "nice": false, "zero": false}}, "y2": {"datum": 4}}},
{"data": {"name": "hgridA"}, "mark": {"type": "rule", "color": "#a0a0a0", "strokeWidth": 1.4, "strokeDash": [1.4, 10.7]}, "encoding": {"y": {"field": "v", "type": "quantitative"}, "x": {"datum": 0}, "x2": {"datum": 400}}},
{"data": {"name": "vgrid"}, "mark": {"type": "rule", "color": "#a0a0a0", "strokeWidth": 1.4, "strokeDash": [1.4, 6.41]}, "encoding": {"x": {"field": "t", "type": "quantitative"}, "y": {"datum": 0}, "y2": {"datum": 4}}},
{"data": {"name": "vgrid"}, "mark": {"type": "rule", "color": "#a0a0a0", "strokeWidth": 1.4, "strokeDash": [1.4, 6.41]}, "encoding": {"x": {"field": "t", "type": "quantitative"}, "y": {"datum": 0}, "y2": {"datum": -3}}},
{"data": {"values": [{}]}, "mark": {"type": "rule", "color": "#8c8c8c", "strokeWidth": 4, "strokeDash": [1, 6.81]}, "encoding": {"x": {"datum": 1.32}, "y": {"datum": 4}, "y2": {"datum": -3}}},
{"data": {"values": [{}]}, "mark": {"type": "rule", "color": "#8c8c8c", "strokeWidth": 4, "strokeDash": [1, 6.81]}, "encoding": {"x": {"datum": 398.68}, "y": {"datum": 4}, "y2": {"datum": -3}}},
{"data": {"values": [{}]}, "mark": {"type": "rule", "color": "#8c8c8c", "strokeWidth": 4, "strokeDash": [1, 11.1]}, "encoding": {"x": {"datum": 0}, "x2": {"datum": 400}, "y": {"datum": 3.949}}},
{"data": {"values": [{}]}, "mark": {"type": "rule", "color": "#8c8c8c", "strokeWidth": 4, "strokeDash": [1, 11.1]}, "encoding": {"x": {"datum": 0}, "x2": {"datum": 400}, "y": {"datum": -2.949}}},
{"data": {"values": [{}]}, "mark": {"type": "rule", "color": "#8c8c8c", "strokeWidth": 1}, "encoding": {"x": {"datum": 0}, "x2": {"datum": 400}, "y": {"datum": 0}}},
{"data": {"values": [{}]}, "mark": {"type": "rule", "color": "#8c8c8c", "strokeWidth": 5, "strokeDash": [1, 11.1]}, "encoding": {"x": {"datum": 0}, "x2": {"datum": 400}, "y": {"datum": 0}}},
{"data": {"values": [{}]}, "mark": {"type": "rule", "color": "#8c8c8c", "strokeWidth": 1}, "encoding": {"x": {"datum": 200}, "y": {"datum": -3}, "y2": {"datum": 4}}},
{"data": {"values": [{}]}, "mark": {"type": "rule", "color": "#8c8c8c", "strokeWidth": 5, "strokeDash": [1, 6.81]}, "encoding": {"x": {"datum": 200}, "y": {"datum": 0}, "y2": {"datum": 4}}},
{"data": {"values": [{}]}, "mark": {"type": "rule", "color": "#8c8c8c", "strokeWidth": 5, "strokeDash": [1, 6.81]}, "encoding": {"x": {"datum": 200}, "y": {"datum": 0}, "y2": {"datum": -3}}},
{"data": {"name": "cV"}, "mark": {"type": "line", "interpolate": "monotone", "strokeWidth": 1.6}, "encoding": {"x": {"field": "t", "type": "quantitative"}, "y": {"field": "v", "type": "quantitative"}, "color": {"field": "s", "type": "nominal", "scale": {"domain": ["MVDC","A","B","C","C1","C2","CC","LVDC","P","S","I","Primary","Secondary"], "range": ["#1a2ec8","#40c8f0","#2cc83c","#f03cd2","#40c8f0","#2cc83c","#e41a1a","#1a2ec8","#1a28b8","#3cd0ec","#24b04a","#c8101c","#7a34a8"]}, "legend": null}}},
{"data": {"name": "cI"}, "mark": {"type": "line", "interpolate": "monotone", "strokeWidth": 1.6, "color": "#e41a1a"}, "encoding": {"x": {"field": "t", "type": "quantitative"}, "y": {"field": "v", "type": "quantitative"}}},
{"data": {"values": [{"s":"C1","t":15.5,"t2":42.6,"v":3.41},{"s":"C2","t":15.5,"t2":42.6,"v":3.15},{"s":"CC","t":12.2,"t2":39.9,"v":-2.09}]}, "mark": {"type": "rule", "strokeWidth": 3.5}, "encoding": {"x": {"field": "t", "type": "quantitative"}, "x2": {"field": "t2"}, "y": {"field": "v", "type": "quantitative"}, "color": {"field": "s", "type": "nominal", "scale": {"domain": ["MVDC","A","B","C","C1","C2","CC","LVDC","P","S","I","Primary","Secondary"], "range": ["#1a2ec8","#40c8f0","#2cc83c","#f03cd2","#40c8f0","#2cc83c","#e41a1a","#1a2ec8","#1a28b8","#3cd0ec","#24b04a","#c8101c","#7a34a8"]}, "legend": null}}},
{"data": {"values": [{"t":48.8,"v":3.3,"label":"Capacitor Voltage[20V/div]"},{"t":45.3,"v":-2.09,"label":"Circulating current[20A/div]"},{"t":248.2,"v":-1.44,"label":"PFD enabled"},{"t":288,"v":-2.46,"label":"40ms/div"},{"t":192.6,"v":-3.64,"label":"(c)"}]}, "mark": {"type": "text", "align": "left", "baseline": "middle", "dy": -3, "font": "Liberation Serif", "fontSize": 22, "color": "#111111"}, "encoding": {"x": {"field": "t", "type": "quantitative"}, "y": {"field": "v", "type": "quantitative"}, "text": {"field": "label"}}},
{"data": {"values": [{"t":249.2,"v":-2.48,"t2":274.8,"v2":-2.48},{"t":239.2,"v":-1.33,"t2":205.8,"v2":-1.03}]}, "mark": {"type": "rule", "strokeWidth": 2.5, "color": "#111111"}, "encoding": {"x": {"field": "t", "type": "quantitative"}, "y": {"field": "v", "type": "quantitative"}, "x2": {"field": "t2"}, "y2": {"field": "v2"}}},
{"data": {"values": [{"t":249.2,"v":-2.48,"ang":180},{"t":274.8,"v":-2.48,"ang":0},{"t":205.8,"v":-1.03,"ang":193.4}]}, "mark": {"type": "point", "shape": "M1,0L-1,-0.8L-1,0.8Z", "filled": true, "size": 196, "color": "#111111", "opacity": 1}, "encoding": {"x": {"field": "t", "type": "quantitative"}, "y": {"field": "v", "type": "quantitative"}, "angle": {"field": "ang", "type": "quantitative", "scale": null}}}
]
},
{
"width": 605, "height": 342,
"layer": [
{"data": {"values": [{}]}, "mark": {"type": "rect", "filled": false, "color": "#8c8c8c", "strokeWidth": 2}, "encoding": {"x": {"datum": 0, "type": "quantitative", "scale": {"domain": [0, 400], "nice": false, "zero": false}}, "x2": {"datum": 400}, "y": {"datum": -1.81, "type": "quantitative", "scale": {"domain": [-3.525, 5.025], "nice": false, "zero": false}}, "y2": {"datum": 5.025}}},
{"data": {"name": "hgridD"}, "mark": {"type": "rule", "color": "#a0a0a0", "strokeWidth": 1.4, "strokeDash": [1.4, 10.7]}, "encoding": {"y": {"field": "v", "type": "quantitative"}, "x": {"datum": 0}, "x2": {"datum": 400}}},
{"data": {"name": "vgrid"}, "mark": {"type": "rule", "color": "#a0a0a0", "strokeWidth": 1.4, "strokeDash": [1.4, 6.6]}, "encoding": {"x": {"field": "t", "type": "quantitative"}, "y": {"datum": 0}, "y2": {"datum": 5.025}}},
{"data": {"name": "vgrid"}, "mark": {"type": "rule", "color": "#a0a0a0", "strokeWidth": 1.4, "strokeDash": [1.4, 6.6]}, "encoding": {"x": {"field": "t", "type": "quantitative"}, "y": {"datum": 0}, "y2": {"datum": -1.81}}},
{"data": {"values": [{}]}, "mark": {"type": "rule", "color": "#8c8c8c", "strokeWidth": 4, "strokeDash": [1, 7]}, "encoding": {"x": {"datum": 1.32}, "y": {"datum": 5.025}, "y2": {"datum": -1.81}}},
{"data": {"values": [{}]}, "mark": {"type": "rule", "color": "#8c8c8c", "strokeWidth": 4, "strokeDash": [1, 7]}, "encoding": {"x": {"datum": 398.68}, "y": {"datum": 5.025}, "y2": {"datum": -1.81}}},
{"data": {"values": [{}]}, "mark": {"type": "rule", "color": "#8c8c8c", "strokeWidth": 4, "strokeDash": [1, 11.1]}, "encoding": {"x": {"datum": 0}, "x2": {"datum": 400}, "y": {"datum": 4.975}}},
{"data": {"values": [{}]}, "mark": {"type": "rule", "color": "#8c8c8c", "strokeWidth": 4, "strokeDash": [1, 11.1]}, "encoding": {"x": {"datum": 0}, "x2": {"datum": 400}, "y": {"datum": -1.76}}},
{"data": {"values": [{}]}, "mark": {"type": "rule", "color": "#8c8c8c", "strokeWidth": 1}, "encoding": {"x": {"datum": 0}, "x2": {"datum": 400}, "y": {"datum": 0}}},
{"data": {"values": [{}]}, "mark": {"type": "rule", "color": "#8c8c8c", "strokeWidth": 5, "strokeDash": [1, 11.1]}, "encoding": {"x": {"datum": 0}, "x2": {"datum": 400}, "y": {"datum": 0}}},
{"data": {"values": [{}]}, "mark": {"type": "rule", "color": "#8c8c8c", "strokeWidth": 1}, "encoding": {"x": {"datum": 200}, "y": {"datum": -1.81}, "y2": {"datum": 5.025}}},
{"data": {"values": [{}]}, "mark": {"type": "rule", "color": "#8c8c8c", "strokeWidth": 5, "strokeDash": [1, 7]}, "encoding": {"x": {"datum": 200}, "y": {"datum": 0}, "y2": {"datum": 5.025}}},
{"data": {"values": [{}]}, "mark": {"type": "rule", "color": "#8c8c8c", "strokeWidth": 5, "strokeDash": [1, 7]}, "encoding": {"x": {"datum": 200}, "y": {"datum": 0}, "y2": {"datum": -1.81}}},
{"data": {"values": [{"t":3.2,"v":4.82}]}, "mark": {"type": "square", "size": 55, "color": "#f5a21e", "opacity": 1}, "encoding": {"x": {"field": "t", "type": "quantitative"}, "y": {"field": "v", "type": "quantitative"}}},
{"data": {"values": [{"t":200,"v":4.95}]}, "mark": {"type": "point", "shape": "triangle-down", "filled": true, "size": 25, "color": "#f5a21e", "opacity": 1}, "encoding": {"x": {"field": "t", "type": "quantitative"}, "y": {"field": "v", "type": "quantitative"}}},
{"data": {"name": "dDC"}, "mark": {"type": "line", "strokeWidth": 1.6, "color": "#1a2ec8"}, "encoding": {"x": {"field": "t", "type": "quantitative"}, "y": {"field": "v", "type": "quantitative"}}},
{"data": {"name": "dI"}, "mark": {"type": "line", "interpolate": "monotone", "strokeWidth": 1.6}, "encoding": {"x": {"field": "t", "type": "quantitative"}, "y": {"field": "v", "type": "quantitative"}, "color": {"field": "s", "type": "nominal", "scale": {"domain": ["MVDC","A","B","C","C1","C2","CC","LVDC","P","S","I","Primary","Secondary"], "range": ["#1a2ec8","#40c8f0","#2cc83c","#f03cd2","#40c8f0","#2cc83c","#e41a1a","#1a2ec8","#1a28b8","#3cd0ec","#24b04a","#c8101c","#7a34a8"]}, "legend": null}}},
{"data": {"values": [{"s":"LVDC","t":8.1,"t2":35.7,"v":3.85},{"s":"B","t":221.6,"t2":250,"v":4.08},{"s":"A","t":221.6,"t2":250,"v":3.83},{"s":"C","t":221.6,"t2":250,"v":3.6}]}, "mark": {"type": "rule", "strokeWidth": 3.5}, "encoding": {"x": {"field": "t", "type": "quantitative"}, "x2": {"field": "t2"}, "y": {"field": "v", "type": "quantitative"}, "color": {"field": "s", "type": "nominal", "scale": {"domain": ["MVDC","A","B","C","C1","C2","CC","LVDC","P","S","I","Primary","Secondary"], "range": ["#1a2ec8","#40c8f0","#2cc83c","#f03cd2","#40c8f0","#2cc83c","#e41a1a","#1a2ec8","#1a28b8","#3cd0ec","#24b04a","#c8101c","#7a34a8"]}, "legend": null}}},
{"data": {"values": [{"t":41.2,"v":3.85,"label":"LVDC voltage[20V/div]"},{"t":264.5,"v":4.04,"label":"DAB output current"},{"t":296.2,"v":3.35,"label":"[10A/div]"},{"t":84.6,"v":-0.71,"label":"40ms/div"},{"t":250.1,"v":-1.07,"label":"PFD enabled"},{"t":192.6,"v":-2.46,"label":"(d)"}]}, "mark": {"type": "text", "align": "left", "baseline": "middle", "dy": -3, "font": "Liberation Serif", "fontSize": 22, "color": "#111111"}, "encoding": {"x": {"field": "t", "type": "quantitative"}, "y": {"field": "v", "type": "quantitative"}, "text": {"field": "label"}}},
{"data": {"values": [{"t":45.2,"v":-0.71,"t2":71.2,"v2":-0.71},{"t":241.9,"v":-1.04,"t2":209.8,"v2":-0.64}]}, "mark": {"type": "rule", "strokeWidth": 2.5, "color": "#111111"}, "encoding": {"x": {"field": "t", "type": "quantitative"}, "y": {"field": "v", "type": "quantitative"}, "x2": {"field": "t2"}, "y2": {"field": "v2"}}},
{"data": {"values": [{"t":45.2,"v":-0.71,"ang":180},{"t":71.2,"v":-0.71,"ang":0},{"t":209.8,"v":-0.64,"ang":198.3}]}, "mark": {"type": "point", "shape": "M1,0L-1,-0.8L-1,0.8Z", "filled": true, "size": 196, "color": "#111111", "opacity": 1}, "encoding": {"x": {"field": "t", "type": "quantitative"}, "y": {"field": "v", "type": "quantitative"}, "angle": {"field": "ang", "type": "quantitative", "scale": null}}}
]
},
{
"width": 605, "height": 311.7,
"layer": [
{"data": {"values": [{}]}, "mark": {"type": "rect", "filled": false, "color": "#8c8c8c", "strokeWidth": 2}, "encoding": {"x": {"datum": 0, "type": "quantitative", "scale": {"domain": [0, 0.4], "nice": false, "zero": false}}, "x2": {"datum": 0.4}, "y": {"datum": -4.117, "type": "quantitative", "scale": {"domain": [-5.333, 4.562], "nice": false, "zero": false}}, "y2": {"datum": 4.562}}},
{"data": {"name": "hgridE"}, "mark": {"type": "rule", "color": "#a0a0a0", "strokeWidth": 1.4, "strokeDash": [1.4, 10.7]}, "encoding": {"y": {"field": "v", "type": "quantitative"}, "x": {"datum": 0}, "x2": {"datum": 0.4}}},
{"data": {"name": "vgridE"}, "mark": {"type": "rule", "color": "#a0a0a0", "strokeWidth": 1.4, "strokeDash": [1.4, 4.9]}, "encoding": {"x": {"field": "t", "type": "quantitative"}, "y": {"datum": 0}, "y2": {"datum": 4.562}}},
{"data": {"name": "vgridE"}, "mark": {"type": "rule", "color": "#a0a0a0", "strokeWidth": 1.4, "strokeDash": [1.4, 4.9]}, "encoding": {"x": {"field": "t", "type": "quantitative"}, "y": {"datum": 0}, "y2": {"datum": -4.117}}},
{"data": {"values": [{}]}, "mark": {"type": "rule", "color": "#8c8c8c", "strokeWidth": 4, "strokeDash": [1, 5.3]}, "encoding": {"x": {"datum": 0.00132}, "y": {"datum": 4.562}, "y2": {"datum": -4.117}}},
{"data": {"values": [{}]}, "mark": {"type": "rule", "color": "#8c8c8c", "strokeWidth": 4, "strokeDash": [1, 5.3]}, "encoding": {"x": {"datum": 0.39868}, "y": {"datum": 4.562}, "y2": {"datum": -4.117}}},
{"data": {"values": [{}]}, "mark": {"type": "rule", "color": "#8c8c8c", "strokeWidth": 4, "strokeDash": [1, 11.1]}, "encoding": {"x": {"datum": 0}, "x2": {"datum": 0.4}, "y": {"datum": 4.4985}}},
{"data": {"values": [{}]}, "mark": {"type": "rule", "color": "#8c8c8c", "strokeWidth": 4, "strokeDash": [1, 11.1]}, "encoding": {"x": {"datum": 0}, "x2": {"datum": 0.4}, "y": {"datum": -4.0535}}},
{"data": {"values": [{}]}, "mark": {"type": "rule", "color": "#8c8c8c", "strokeWidth": 1}, "encoding": {"x": {"datum": 0}, "x2": {"datum": 0.4}, "y": {"datum": 0}}},
{"data": {"values": [{}]}, "mark": {"type": "rule", "color": "#8c8c8c", "strokeWidth": 5, "strokeDash": [1, 11.1]}, "encoding": {"x": {"datum": 0}, "x2": {"datum": 0.4}, "y": {"datum": 0}}},
{"data": {"values": [{}]}, "mark": {"type": "rule", "color": "#8c8c8c", "strokeWidth": 1}, "encoding": {"x": {"datum": 0.2}, "y": {"datum": -4.117}, "y2": {"datum": 4.562}}},
{"data": {"values": [{}]}, "mark": {"type": "rule", "color": "#8c8c8c", "strokeWidth": 5, "strokeDash": [1, 5.3]}, "encoding": {"x": {"datum": 0.2}, "y": {"datum": 0}, "y2": {"datum": 4.562}}},
{"data": {"values": [{}]}, "mark": {"type": "rule", "color": "#8c8c8c", "strokeWidth": 5, "strokeDash": [1, 5.3]}, "encoding": {"x": {"datum": 0.2}, "y": {"datum": 0}, "y2": {"datum": -4.117}}},
{"data": {"name": "eV"}, "mark": {"type": "line", "strokeWidth": 3}, "encoding": {"x": {"field": "t", "type": "quantitative"}, "y": {"field": "v", "type": "quantitative"}, "color": {"field": "s", "type": "nominal", "scale": {"domain": ["MVDC","A","B","C","C1","C2","CC","LVDC","P","S","I","Primary","Secondary"], "range": ["#1a2ec8","#40c8f0","#2cc83c","#f03cd2","#40c8f0","#2cc83c","#e41a1a","#1a2ec8","#1a28b8","#3cd0ec","#24b04a","#c8101c","#7a34a8"]}, "legend": null}}},
{"data": {"name": "eI"}, "mark": {"type": "line", "strokeWidth": 6, "color": "#137a2c"}, "encoding": {"x": {"field": "t", "type": "quantitative"}, "y": {"field": "v", "type": "quantitative"}}},
{"data": {"name": "eI"}, "mark": {"type": "line", "strokeWidth": 3.5, "color": "#2cc048"}, "encoding": {"x": {"field": "t", "type": "quantitative"}, "y": {"field": "v", "type": "quantitative"}}},
{"data": {"values": [{"s":"P","t":0.0073,"t2":0.0349,"v":3.69},{"s":"S","t":0.0073,"t2":0.0349,"v":3.34},{"s":"I","t":0.2098,"t2":0.2374,"v":3.45}]}, "mark": {"type": "rule", "strokeWidth": 3.5}, "encoding": {"x": {"field": "t", "type": "quantitative"}, "x2": {"field": "t2"}, "y": {"field": "v", "type": "quantitative"}, "color": {"field": "s", "type": "nominal", "scale": {"domain": ["MVDC","A","B","C","C1","C2","CC","LVDC","P","S","I","Primary","Secondary"], "range": ["#1a2ec8","#40c8f0","#2cc83c","#f03cd2","#40c8f0","#2cc83c","#e41a1a","#1a2ec8","#1a28b8","#3cd0ec","#24b04a","#c8101c","#7a34a8"]}, "legend": null}}},
{"data": {"name": "eZ"}, "mark": {"type": "circle", "size": 113, "opacity": 1}, "encoding": {"x": {"field": "t", "type": "quantitative"}, "y": {"field": "v", "type": "quantitative"}, "color": {"field": "s", "type": "nominal", "scale": {"domain": ["MVDC","A","B","C","C1","C2","CC","LVDC","P","S","I","Primary","Secondary"], "range": ["#1a2ec8","#40c8f0","#2cc83c","#f03cd2","#40c8f0","#2cc83c","#e41a1a","#1a2ec8","#1a28b8","#3cd0ec","#24b04a","#c8101c","#7a34a8"]}, "legend": null}}},
{"data": {"values": [{"t":0.0534,"v":3.48,"label":"HFT voltage[20V/div]"},{"t":0.2537,"v":3.45,"label":"HFT current[5A/div]"},{"t":0.0403,"v":-2.73,"label":"0.04ms/div"},{"t":0.1936,"v":-4.79,"label":"(e)"}]}, "mark": {"type": "text", "align": "left", "baseline": "middle", "dy": -3, "font": "Liberation Serif", "fontSize": 22, "color": "#111111"}, "encoding": {"x": {"field": "t", "type": "quantitative"}, "y": {"field": "v", "type": "quantitative"}, "text": {"field": "label"}}},
{"data": {"values": [{"t":0.094,"v":-3.53,"label":"Primary ZVS"}]}, "mark": {"type": "text", "align": "left", "baseline": "middle", "dy": -3, "font": "Liberation Serif", "fontSize": 22, "color": "#c8101c"}, "encoding": {"x": {"field": "t", "type": "quantitative"}, "y": {"field": "v", "type": "quantitative"}, "text": {"field": "label"}}},
{"data": {"values": [{"t":0.2334,"v":-3.53,"label":"Secondary ZVS"}]}, "mark": {"type": "text", "align": "left", "baseline": "middle", "dy": -3, "font": "Liberation Serif", "fontSize": 22, "color": "#7a34a8"}, "encoding": {"x": {"field": "t", "type": "quantitative"}, "y": {"field": "v", "type": "quantitative"}, "text": {"field": "label"}}},
{"data": {"values": [{"t":0.0071,"v":-2.73,"t2":0.0325,"v2":-2.73}]}, "mark": {"type": "rule", "strokeWidth": 2.5, "color": "#111111"}, "encoding": {"x": {"field": "t", "type": "quantitative"}, "y": {"field": "v", "type": "quantitative"}, "x2": {"field": "t2"}, "y2": {"field": "v2"}}},
{"data": {"values": [{"t":0.0071,"v":-2.73,"ang":180},{"t":0.0325,"v":-2.73,"ang":0}]}, "mark": {"type": "point", "shape": "M1,0L-1,-0.8L-1,0.8Z", "filled": true, "size": 196, "color": "#111111", "opacity": 1}, "encoding": {"x": {"field": "t", "type": "quantitative"}, "y": {"field": "v", "type": "quantitative"}, "angle": {"field": "ang", "type": "quantitative", "scale": null}}}
]
}
]
}
